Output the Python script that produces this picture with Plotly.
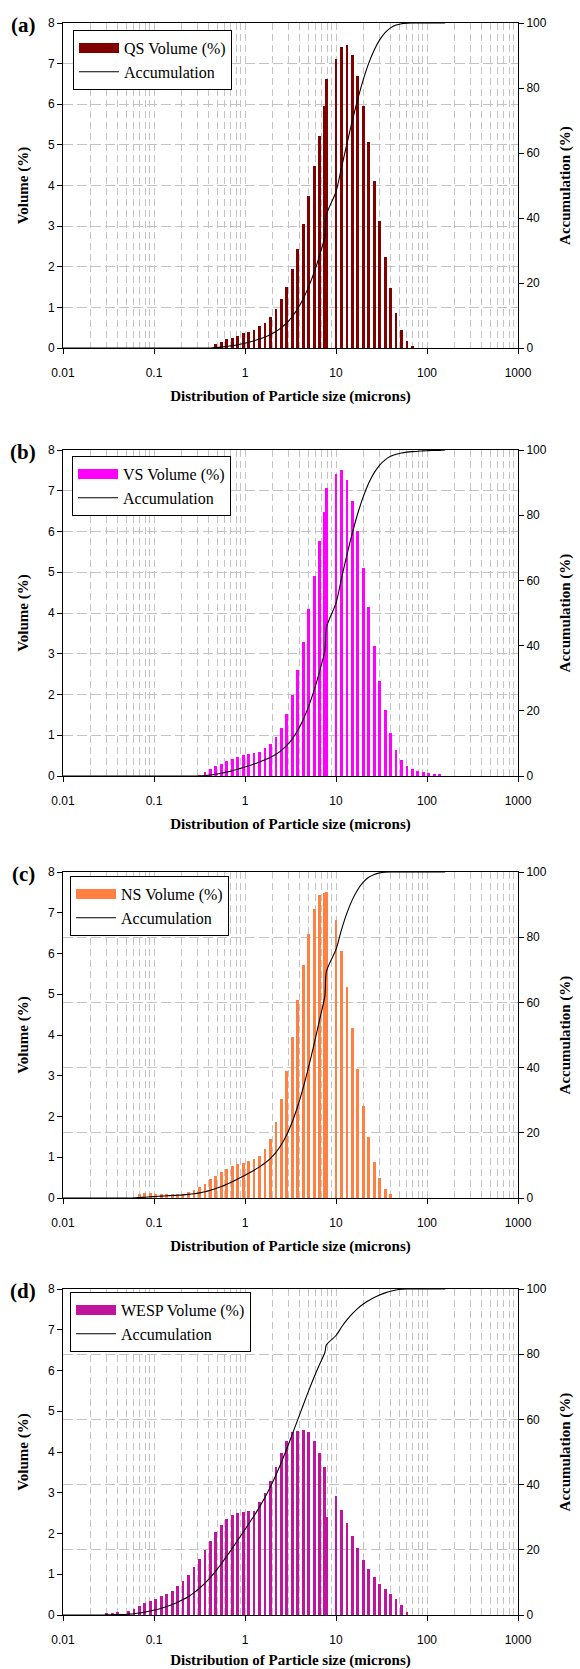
import plotly.graph_objects as go

# ---------------- data ----------------
# particle size classes (microns), shared by all four panels
sizes = [0.01, 0.01148, 0.01318, 0.01514, 0.01738, 0.01995, 0.02291, 0.0263, 0.0302, 0.03467,
         0.03981, 0.04571, 0.05248, 0.06026, 0.06918, 0.07943, 0.0912, 0.1047, 0.1202, 0.138,
         0.1585, 0.182, 0.2089, 0.2399, 0.2754, 0.3162, 0.3631, 0.4169, 0.4786, 0.5495,
         0.631, 0.7244, 0.8318, 0.955, 1.096, 1.259, 1.445, 1.66, 1.905, 2.188,
         2.512, 2.884, 3.311, 3.802, 4.365, 5.012, 5.754, 6.607, 7.55, 7.85,
         10.0, 11.48, 13.18, 15.14, 17.38, 19.95, 22.91, 26.3, 30.2, 34.67,
         39.81, 45.71, 52.48, 60.26, 69.18, 79.43, 91.2, 104.7, 120.2, 138.0,
         158.5]

qs_volume = [0, 0, 0, 0, 0, 0, 0, 0, 0, 0,
             0, 0, 0, 0, 0, 0, 0, 0, 0, 0,
             0, 0, 0, 0, 0, 0, 0, 0, 0.11, 0.16,
             0.21, 0.25, 0.30, 0.36, 0.40, 0.45, 0.53, 0.62, 0.76, 0.95,
             1.21, 1.51, 1.94, 2.44, 3.05, 3.75, 4.47, 5.23, 5.96, 6.62,
             7.11, 7.41, 7.45, 7.21, 6.70, 5.96, 5.08, 4.10, 3.12, 2.23,
             1.47, 0.87, 0.44, 0.18, 0.03, 0, 0, 0, 0, 0,
             0]
qs_accum = [0, 0, 0, 0, 0, 0, 0, 0, 0, 0,
            0, 0, 0, 0, 0, 0, 0, 0, 0, 0,
            0, 0, 0, 0, 0, 0, 0, 0, 0.11, 0.27,
            0.48, 0.73, 1.02, 1.38, 1.78, 2.23, 2.75, 3.37, 4.12, 5.07,
            6.27, 7.77, 9.70, 12.12, 15.15, 18.88, 23.32, 28.52, 34.44, 41.02,
            48.08, 55.44, 62.84, 70.01, 76.67, 82.59, 87.64, 91.71, 94.81, 97.03,
            98.49, 99.35, 99.79, 99.97, 100, 100, 100, 100, 100, 100,
            100]

vs_volume = [0, 0, 0, 0, 0, 0, 0, 0, 0, 0,
             0, 0, 0, 0, 0, 0, 0, 0, 0, 0,
             0, 0, 0, 0, 0, 0.02, 0.11, 0.16, 0.24, 0.30,
             0.36, 0.42, 0.47, 0.51, 0.53, 0.56, 0.60, 0.68, 0.78, 0.95,
             1.19, 1.53, 2.00, 2.60, 3.30, 4.11, 4.92, 5.76, 6.47, 7.06,
             7.42, 7.50, 7.27, 6.76, 6.02, 5.10, 4.15, 3.20, 2.33, 1.61,
             1.06, 0.65, 0.39, 0.25, 0.16, 0.12, 0.10, 0.08, 0.06, 0.04,
             0]
vs_accum = [0, 0, 0, 0, 0, 0, 0, 0, 0, 0,
            0, 0, 0, 0, 0, 0, 0, 0, 0, 0,
            0, 0, 0, 0, 0, 0.02, 0.13, 0.29, 0.53, 0.83,
            1.19, 1.61, 2.08, 2.59, 3.12, 3.68, 4.28, 4.96, 5.74, 6.69,
            7.88, 9.41, 11.41, 14.01, 17.31, 21.42, 26.34, 32.10, 38.57, 45.63,
            53.05, 60.55, 67.82, 74.58, 80.60, 85.70, 89.85, 93.05, 95.38, 96.99,
            98.05, 98.70, 99.09, 99.34, 99.50, 99.62, 99.72, 99.80, 99.86, 99.90,
            100]

ns_volume = [0, 0, 0, 0, 0, 0, 0, 0, 0, 0,
             0, 0, 0, 0.02, 0.11, 0.12, 0.12, 0.11, 0.10, 0.10,
             0.09, 0.09, 0.10, 0.15, 0.20, 0.27, 0.35, 0.46, 0.54, 0.63,
             0.72, 0.78, 0.83, 0.87, 0.90, 0.95, 1.03, 1.20, 1.46, 1.86,
             2.42, 3.12, 3.95, 4.85, 5.72, 6.49, 7.08, 7.44, 7.48, 7.50,
             6.82, 6.05, 5.18, 4.18, 3.17, 2.26, 1.49, 0.89, 0.49, 0.22,
             0.09, 0, 0, 0, 0, 0, 0, 0, 0, 0,
             0]
ns_accum = [0, 0, 0, 0, 0, 0, 0, 0, 0, 0,
            0, 0, 0, 0.02, 0.13, 0.25, 0.37, 0.48, 0.57, 0.67,
            0.76, 0.85, 0.95, 1.10, 1.30, 1.56, 1.91, 2.37, 2.90, 3.52,
            4.24, 5.01, 5.83, 6.69, 7.58, 8.52, 9.54, 10.73, 12.18, 14.02,
            16.41, 19.50, 23.41, 28.22, 33.88, 40.30, 47.31, 54.68, 62.08, 69.51,
            76.26, 82.25, 87.38, 91.52, 94.65, 96.89, 98.37, 99.25, 99.73, 99.95,
            100, 100, 100, 100, 100, 100, 100, 100, 100, 100,
            100]

wesp_volume = [0, 0, 0, 0, 0, 0, 0, 0, 0.03, 0.05,
               0.07, 0.0, 0.11, 0.14, 0.21, 0.29, 0.35, 0.40, 0.47, 0.52,
               0.60, 0.72, 0.84, 0.99, 1.17, 1.38, 1.59, 1.82, 2.03, 2.20,
               2.35, 2.45, 2.51, 2.53, 2.54, 2.56, 2.78, 3.00, 3.29, 3.63,
               3.98, 4.28, 4.49, 4.52, 4.55, 4.49, 4.27, 3.98, 3.63, 2.40,
               2.91, 2.58, 2.26, 1.95, 1.65, 1.36, 1.13, 0.94, 0.77, 0.64,
               0.51, 0.39, 0.24, 0.07, 0, 0, 0, 0, 0, 0,
               0]
wesp_accum = [0, 0, 0, 0, 0, 0, 0, 0, 0.03, 0.08,
              0.15, 0.15, 0.26, 0.39, 0.60, 0.89, 1.23, 1.62, 2.09, 2.60,
              3.19, 3.90, 4.72, 5.70, 6.85, 8.21, 9.77, 11.56, 13.56, 15.73,
              18.04, 20.45, 22.92, 25.41, 27.91, 30.43, 33.17, 36.12, 39.36, 42.93,
              46.85, 51.06, 55.48, 59.93, 64.40, 68.82, 73.02, 76.94, 80.51, 82.87,
              85.74, 88.28, 90.50, 92.42, 94.05, 95.39, 96.50, 97.42, 98.18, 98.81,
              99.31, 99.69, 99.93, 100, 100, 100, 100, 100, 100, 100,
              100]

panel_labels = ["(a)", "(b)", "(c)", "(d)"]
series_names = ["QS Volume (%)", "VS Volume (%)", "NS Volume (%)", "WESP Volume (%)"]
volumes = [qs_volume, vs_volume, ns_volume, wesp_volume]
accums = [qs_accum, vs_accum, ns_accum, wesp_accum]
x_tick_vals = [0.01, 0.1, 1, 10, 100, 1000]
x_tick_text = ["0.01", "0.1", "1", "10", "100", "1000"]

# ---------------- styling / layout ----------------
W, H = 580, 1669
bar_colors = ["#800000", "#FF00FF", "#FF8040", "#C0149F"]
plot_left, plot_right = 63, 518
panel_px = [(23, 348), (450, 776), (872, 1198), (1289, 1615)]  # (top, bottom) in px
legend_px = [(73, 30), (72, 456), (70, 876), (70, 1292)]
grid_on_left = [True, True, False, False]

SERIF = "Liberation Serif"
SANS = "Liberation Sans"
GRID = "#C4C4C4"

fig = go.Figure()
layout = dict(width=W, height=H, margin=dict(l=0, r=0, t=0, b=0, autoexpand=False),
              paper_bgcolor="white", plot_bgcolor="white", showlegend=True,
              bargap=0, annotations=[])

for k in range(4):
    xn = "x" if k == 0 else f"x{k+1}"
    yl = "y" if k == 0 else f"y{2*k+1}"
    yr = f"y{2*k+2}"
    legname = "legend" if k == 0 else f"legend{k+1}"
    top, bot = panel_px[k]
    dom = [1 - bot / H, 1 - top / H]

    bar_w = [s * 0.07 for s in sizes]
    fig.add_trace(go.Bar(x=sizes, y=volumes[k], width=bar_w, xaxis=xn, yaxis=yl,
                         marker=dict(color=bar_colors[k], line=dict(width=0)),
                         showlegend=False, name=series_names[k]))
    # legend swatch for the bar series
    fig.add_trace(go.Scatter(x=[None], y=[None], xaxis=xn, yaxis=yl, mode="lines",
                             line=dict(color=bar_colors[k], width=10),
                             name=series_names[k], legend=legname))
    fig.add_trace(go.Scatter(x=sizes, y=accums[k], xaxis=xn, yaxis=yr, mode="lines",
                             line=dict(color="black", width=1.1, shape="spline", smoothing=0.8),
                             name="Accumulation", legend=legname))

    xkey = "xaxis" if k == 0 else f"xaxis{k+1}"
    ylkey = "yaxis" if k == 0 else f"yaxis{2*k+1}"
    yrkey = f"yaxis{2*k+2}"

    layout[xkey] = dict(
        type="log", range=[-2, 3], domain=[plot_left / W, plot_right / W],
        anchor=yl, tickvals=x_tick_vals, ticktext=x_tick_text, automargin=False,
        ticks="outside", ticklen=5, tickcolor="black", tickwidth=1,
        ticklabelstandoff=9,
        showline=True, linecolor="black", linewidth=1, mirror=True,
        showgrid=False, zeroline=False,
        minor=dict(dtick="D1", showgrid=True, gridcolor=GRID, griddash="7px,4px",
                   gridwidth=1, ticks=""),
        tickfont=dict(family=SANS, size=12, color="black"),
        title=dict(text="<b>Distribution of Particle size (microns)</b>",
                   font=dict(family=SERIF, size=15, color="black"), standoff=11),
    )
    layout[ylkey] = dict(
        range=[0, 8], dtick=1, domain=dom, anchor=xn, automargin=False,
        ticks="outside", ticklen=5, tickcolor="black",
        showline=True, linecolor="black", linewidth=1,
        showgrid=grid_on_left[k], gridcolor=GRID, griddash="10px,4px", gridwidth=1,
        zeroline=False,
        tickfont=dict(family=SANS, size=12, color="black"),
        title=dict(text="<b>Volume (%)</b>",
                   font=dict(family=SERIF, size=15, color="black"), standoff=15),
    )
    layout[yrkey] = dict(
        range=[0, 100], dtick=20, overlaying=yl, anchor=xn, side="right", automargin=False,
        ticks="outside", ticklen=5, tickcolor="black",
        showline=True, linecolor="black", linewidth=1,
        showgrid=not grid_on_left[k], gridcolor=GRID, griddash="10px,4px", gridwidth=1,
        zeroline=False,
        tickfont=dict(family=SANS, size=12, color="black"),
        title=dict(text="<b>Accumulation (%)</b>",
                   font=dict(family=SERIF, size=15, color="black"), standoff=13),
    )
    lx, ly = legend_px[k]
    layout[legname] = dict(
        x=lx / W, y=1 - ly / H, xanchor="left", yanchor="top",
        bgcolor="white", bordercolor="black", borderwidth=1,
        font=dict(family=SERIF, size=16, color="black"),
        tracegroupgap=0, itemwidth=40,
    )
    layout["annotations"].append(dict(
        text=f"<b>{panel_labels[k]}</b>", xref="paper", yref="paper",
        x=23 / W, y=1 - (top + 2) / H, xanchor="center", yanchor="middle",
        showarrow=False, font=dict(family=SERIF, size=21, color="black")))

fig.update_layout(**layout)
fig.write_html("out.html", config={"displayModeBar": False},
               post_script="document.body.style.margin='0px';document.body.style.overflow='hidden';")
